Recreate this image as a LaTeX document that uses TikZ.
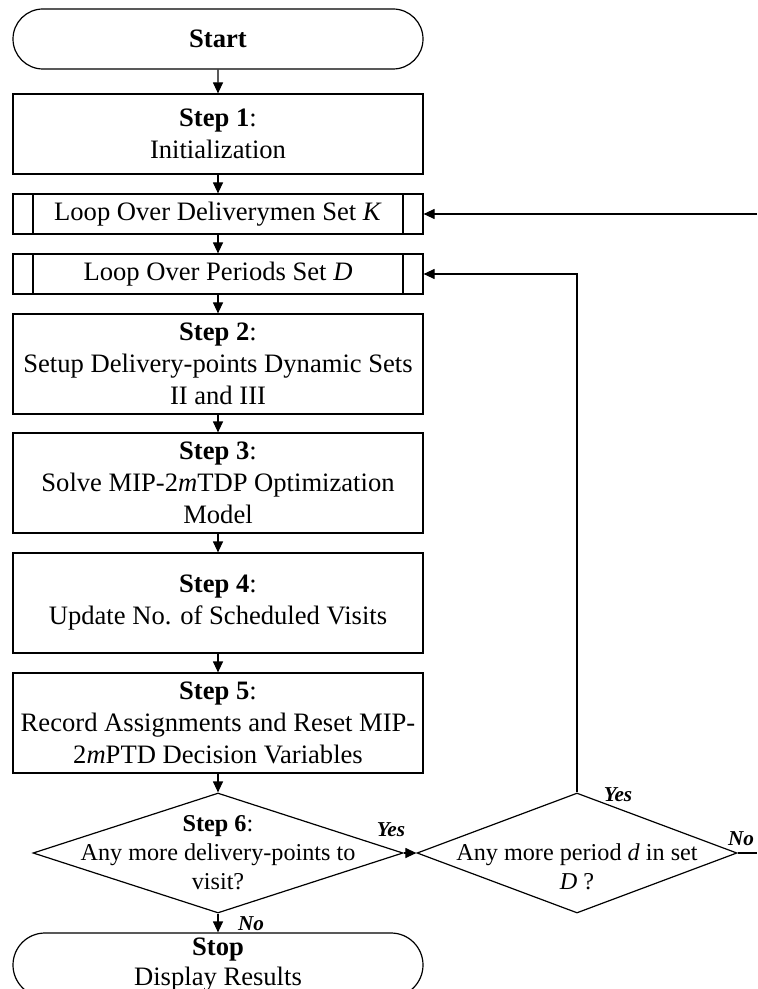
\documentclass[tikz,border=0pt]{standalone}
\usepackage{fontspec}
\setmainfont{Liberation Serif}
\usetikzlibrary{shapes.geometric,shapes.misc,arrows.meta}

\begin{document}
\begin{tikzpicture}[x=0.5pt,y=-0.5pt,line width=0.6pt,
    every node/.style={font=\fontsize{13.3}{16}\selectfont,align=center},
    term/.style={draw,rounded rectangle,minimum width=205pt,minimum height=30pt,inner sep=0pt},
    proc/.style={draw,rectangle,minimum width=205pt,minimum height=50pt,inner sep=0pt},
    loopbox/.style={proc,minimum height=20pt,
      path picture={\draw ([xshift=10pt]path picture bounding box.north west) -- ([xshift=10pt]path picture bounding box.south west)
        ([xshift=-10pt]path picture bounding box.north east) -- ([xshift=-10pt]path picture bounding box.south east);}},
    decide/.style={draw,diamond,inner sep=0pt},
    dtext/.style={font=\fontsize{12.1}{14.5}\selectfont},
    lbl/.style={font=\fontsize{10.6}{12}\selectfont\bfseries\itshape,inner sep=0pt},
    arr/.style={-{Triangle[length=5.5pt,width=5pt]}}]
    \useasboundingbox (0,0) rectangle (757,989);
    \clip (0,0) rectangle (757,989);
    % Main column
    \node[term] (start) at (218,39) {\textbf{Start}};
    \node[proc,minimum height=40pt] (s1) at (218,134) {\textbf{Step 1}:\\Initialization};
    \node[loopbox] (loopK) at (218,214) {Loop Over Deliverymen Set \textit{K}};
    \node[loopbox] (loopD) at (218,274) {Loop Over Periods Set \textit{D}};
    \node[proc] (s2) at (218,364) {\textbf{Step 2}:\\Setup Delivery-points Dynamic Sets\\II and III};
    \node[proc] (s3) at (218,483) {\textbf{Step 3}:\\Solve MIP-2\textit{m}TDP Optimization\\Model};
    \node[proc] (s4) at (218,603) {\textbf{Step 4}:\\Update No. of Scheduled Visits};
    \node[proc] (s5) at (218,723) {\textbf{Step 5}:\\Record Assignments and Reset MIP-\\2\textit{m}PTD Decision Variables};
    % Decisions
    \node[decide,minimum width=185pt,minimum height=60pt] (d1) at (218,853) {};
    \node[dtext] (d1txt) at (d1.center) {\textbf{Step 6}:\\Any more delivery-points to\\visit?};
    \node[decide,minimum width=160pt,minimum height=60pt] (d2) at (577,853) {};
    \node[dtext] (d2txt) at (577,867) {Any more period \textit{d} in set\\\textit{D} ?};
    \node[term,minimum height=32pt,font=\fontsize{13.3}{15}\selectfont] (stop) at (218,965) {\textbf{Stop}\\Display Results};
    % Free ends at the right edge
    \coordinate (rK) at (757,214);
    \coordinate (rNo) at (757,853);
    % Connectors
    \draw[arr] (start) -- (s1);
    \draw[arr] (s1) -- (loopK);
    \draw[arr] (loopK) -- (loopD);
    \draw[arr] (loopD) -- (s2);
    \draw[arr] (s2) -- (s3);
    \draw[arr] (s3) -- (s4);
    \draw[arr] (s4) -- (s5);
    \draw[arr] (s5) -- (d1);
    \draw[arr] (d1) -- (stop);
    \draw[arr] (d1) -- (d2);
    \draw[arr] (d2.north) |- (loopD.east);
    \draw (d2.east) -- (rNo);
    \draw[arr] (rK) -- (loopK.east);
    % Branch labels
    \node[lbl] (yes1) at (391,830) {Yes};
    \node[lbl] (yes2) at (618,795) {Yes};
    \node[lbl] (no1) at (741,839) {No};
    \node[lbl] (no2) at (251,924) {No};
\end{tikzpicture}
\end{document}
